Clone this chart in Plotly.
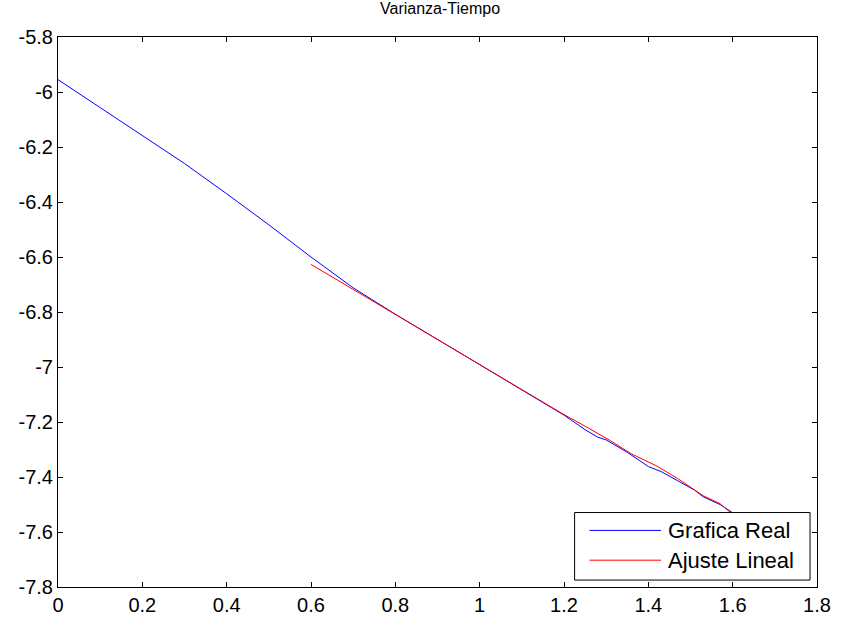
import plotly.graph_objects as go

# Measured series: time vs log-variance
t_real = [0.00, 0.10, 0.20, 0.30, 0.40, 0.50, 0.60, 0.70, 0.80, 0.90, 1.00,
          1.05, 1.10, 1.15, 1.20, 1.25, 1.28, 1.30, 1.35, 1.40, 1.43, 1.47,
          1.51, 1.53, 1.57, 1.60, 1.65, 1.70]
v_real = [-5.955, -6.057, -6.160, -6.260, -6.370, -6.483, -6.600, -6.712,
          -6.808, -6.900, -6.990, -7.035, -7.082, -7.130, -7.175, -7.228,
          -7.255, -7.265, -7.310, -7.362, -7.380, -7.414, -7.448, -7.472,
          -7.500, -7.530, -7.578, -7.625]

# Linear fit over the later part of the series
t_fit = [0.60, 0.80, 1.00, 1.20, 1.25, 1.28, 1.31, 1.36, 1.42, 1.47, 1.51,
         1.53, 1.57, 1.60, 1.70]
v_fit = [-6.627, -6.809, -6.991, -7.173, -7.215, -7.240, -7.268, -7.316,
         -7.360, -7.406, -7.446, -7.468, -7.497, -7.536, -7.627]

x_ticks = [0, 0.2, 0.4, 0.6, 0.8, 1.0, 1.2, 1.4, 1.6, 1.8]
x_labels = ["0", "0.2", "0.4", "0.6", "0.8", "1", "1.2", "1.4", "1.6", "1.8"]
y_ticks = [-5.8, -6.0, -6.2, -6.4, -6.6, -6.8, -7.0, -7.2, -7.4, -7.6, -7.8]
y_labels = ["-5.8", "-6", "-6.2", "-6.4", "-6.6", "-6.8", "-7", "-7.2",
            "-7.4", "-7.6", "-7.8"]

series_names = ["Grafica Real", "Ajuste Lineal"]
series_colors = ["#0000ff", "#ff0000"]

FONT = "Liberation Sans, Arial"
W, H = 843, 628
M_L, M_R, M_T, M_B = 58, 21, 37, 37

fig = go.Figure()
for name, color, xs, ys in zip(series_names, series_colors,
                               [t_real, t_fit], [v_real, v_fit]):
    fig.add_trace(go.Scatter(x=xs, y=ys, mode="lines", name=name,
                             line=dict(color=color, width=1),
                             showlegend=False))

axis_common = dict(
    showgrid=False, zeroline=False, showline=True, linecolor="black",
    linewidth=1, mirror="allticks", ticks="inside", ticklen=5,
    tickcolor="black", tickwidth=1,
    tickfont=dict(family=FONT, size=20, color="black"),
)
fig.update_xaxes(range=[0, 1.8], tickmode="array", tickvals=x_ticks,
                 ticktext=x_labels, **axis_common)
fig.update_yaxes(range=[-7.8, -5.8], tickmode="array", tickvals=y_ticks,
                 ticktext=y_labels, **axis_common)


# Boxed legend in the lower-right corner of the axes (pixel -> paper)
def px_x(p):
    return (p - M_L) / (W - M_L - M_R)


def px_y(p):
    return (H - M_B - p) / (H - M_T - M_B)


fig.add_shape(type="rect", xref="paper", yref="paper",
              x0=px_x(578), x1=px_x(815), y0=px_y(584), y1=px_y(516),
              line=dict(color="black", width=1), fillcolor="white",
              layer="above")
for i, (name, color) in enumerate(zip(series_names, series_colors)):
    row_y = px_y(534 + 30 * i)
    fig.add_shape(type="line", xref="paper", yref="paper",
                  x0=px_x(593), x1=px_x(665), y0=row_y, y1=row_y,
                  line=dict(color=color, width=1), layer="above")
    fig.add_annotation(xref="paper", yref="paper", x=px_x(670), y=row_y,
                       text=name, showarrow=False, xanchor="left",
                       yanchor="middle",
                       font=dict(family=FONT, size=22, color="black"))

fig.update_layout(
    width=W, height=H,
    margin=dict(l=M_L, r=M_R, t=M_T, b=M_B),
    plot_bgcolor="white", paper_bgcolor="white",
    showlegend=False,
    title=dict(text="Varianza-Tiempo", x=0.522, xanchor="center",
               y=0.996, yanchor="top",
               font=dict(family=FONT, size=16, color="black")),
)

fig.write_html("out.html")
